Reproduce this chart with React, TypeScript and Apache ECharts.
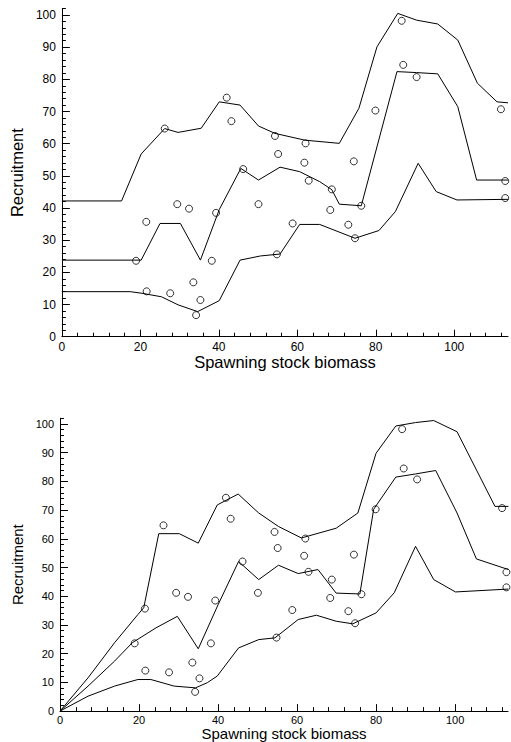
import React, { useEffect, useRef } from "react";
import * as echarts from "echarts";

// Observed stock-recruitment points (same in both panels)
const observed: [number, number][] = [
  [18.9, 23.6], [21.5, 35.7], [21.6, 14.1], [26.2, 64.7], [27.6, 13.5], [29.4, 41.2],
  [32.4, 39.8], [33.5, 16.9], [34.2, 6.7], [35.3, 11.4], [38.2, 23.6], [39.3, 38.5],
  [42.0, 74.3], [43.2, 67.0], [46.2, 52.1], [50.1, 41.2], [54.3, 62.4], [54.8, 25.6],
  [55.1, 56.8], [58.8, 35.2], [61.8, 54.1], [62.1, 60.1], [62.9, 48.5], [68.4, 39.4],
  [68.8, 45.8], [73.0, 34.8], [74.4, 54.5], [74.7, 30.6], [76.3, 40.7], [79.9, 70.3],
  [86.6, 98.2], [87.0, 84.5], [90.4, 80.7], [111.9, 70.7], [113.0, 48.4], [113.0, 43.1],
];

// Top panel curves
const topUpper: [number, number][] = [
  [0, 42.2], [15.2, 42.2], [20.2, 56.8], [26.2, 64.7], [29.6, 63.5], [35.5, 64.8],
  [40.1, 73.0], [45.4, 72.0], [50.1, 65.5], [54.3, 63.2], [61.9, 61.1], [70.7, 60.1],
  [75.7, 71.0], [80.3, 90.1], [85.6, 100.5], [90.4, 98.4], [95.8, 97.2], [100.9, 92.2],
  [105.9, 78.8], [110.9, 73.0], [113.7, 72.7],
];
const topMiddle: [number, number][] = [
  [0, 23.8], [20.2, 23.8], [25.0, 35.2], [30.2, 35.2], [35.3, 23.8], [40.1, 39.5],
  [45.6, 52.3], [50.1, 48.7], [55.6, 52.7], [60.6, 51.3], [65.7, 48.2], [68.8, 45.7],
  [70.7, 41.2], [76.3, 40.7], [85.4, 82.4], [90.4, 82.1], [95.8, 81.7], [100.9, 71.5],
  [105.7, 48.7], [113.7, 48.7],
];
const topLower: [number, number][] = [
  [0, 14.0], [17.4, 14.0], [20.4, 13.5], [25.4, 12.4], [29.6, 9.9], [34.6, 7.8],
  [40.1, 11.2], [45.4, 23.8], [50.6, 25.1], [55.6, 25.7], [60.6, 34.9], [65.7, 34.9],
  [74.7, 30.6], [80.8, 33.0], [85.0, 38.9], [90.8, 53.9], [95.4, 45.1], [100.7, 42.5],
  [113.7, 42.7],
];

// Bottom panel curves
const botUpper: [number, number][] = [
  [0, 0], [7.1, 11.6], [13.8, 23.8], [19.7, 33.6], [21.2, 36.0], [25.0, 61.8],
  [30.2, 61.8], [35.0, 58.5], [39.8, 71.8], [45.1, 75.6], [50.3, 69.0], [55.3, 64.3],
  [61.1, 60.3], [69.9, 63.7], [75.4, 69.0], [80.0, 89.8], [85.0, 99.3], [90.0, 100.5],
  [94.6, 101.2], [100.5, 97.3], [110.1, 71.3], [113.5, 71.3],
];
const botMiddle: [number, number][] = [
  [0, 0], [7.1, 8.7], [13.8, 17.4], [18.3, 23.8], [24.3, 29.0], [29.7, 33.0],
  [35.0, 21.7], [40.0, 37.0], [45.2, 52.1], [50.3, 45.8], [55.3, 50.8], [60.3, 47.9],
  [65.3, 49.3], [69.9, 41.1], [75.9, 40.8], [79.4, 70.3], [85.0, 81.5], [90.0, 82.6],
  [95.1, 83.8], [100.5, 69.0], [105.4, 53.0], [113.5, 49.3],
];
const botLower: [number, number][] = [
  [0, 0], [7.1, 5.2], [13.8, 8.7], [19.7, 11.0], [23.0, 11.0], [28.9, 8.7],
  [34.3, 8.1], [37.3, 9.9], [39.8, 12.2], [45.2, 22.0], [50.3, 24.9], [54.4, 25.5],
  [60.3, 31.9], [64.9, 33.4], [69.9, 31.3], [74.1, 30.4], [80.0, 34.2], [84.6, 41.2],
  [90.0, 57.4], [94.6, 45.8], [100.1, 41.5], [113.5, 42.5],
];

// Tick values
const xMajorTicks = [0, 20, 40, 60, 80, 100];
const xMinorTicks = [4, 8, 12, 16, 24, 28, 32, 36, 44, 48, 52, 56, 64, 68, 72, 76, 84, 88, 92, 96, 104, 108, 112];
const yMajorTicks = [0, 10, 20, 30, 40, 50, 60, 70, 80, 90, 100];
const yMinorTicks = [2, 4, 6, 8, 12, 14, 16, 18, 22, 24, 26, 28, 32, 34, 36, 38, 42, 44, 46, 48,
  52, 54, 56, 58, 62, 64, 66, 68, 72, 74, 76, 78, 82, 84, 86, 88, 92, 94, 96, 98, 102];
const yMax = 102;

const xTitle = "Spawning stock biomass";
const yTitle = "Recruitment";

const FONT = "'Liberation Sans', Arial, sans-serif";

export default function App() {
  const ref = useRef<HTMLDivElement>(null);
  useEffect(() => {
    if (!ref.current) return;
    const chart = echarts.init(ref.current, null, { renderer: "svg" });
    const black = "#000";

    const panels = [
      { x0: 59, y0: 336.7, kx: 3.975, ky: 3.217, xMax: 113.7, lab: 12, name: 16.5, xGap: 15, yGap: 32, xMargin: 4, yMargin: 6 },
      { x0: 60, y0: 711.7, kx: 3.975, ky: 2.877, xMax: 113.4, lab: 11, name: 15, xGap: 12, yGap: 33, xMargin: 3, yMargin: 6 },
    ];

    const grid: any[] = [];
    const xAxis: any[] = [];
    const yAxis: any[] = [];
    const series: any[] = [];
    panels.forEach((p, i) => {
      grid.push({
        left: p.x0, top: p.y0 - yMax * p.ky,
        width: p.xMax * p.kx, height: yMax * p.ky, containLabel: false,
      });
      xAxis.push({
        type: "value", gridIndex: i, min: 0, max: p.xMax, interval: 20,
        name: xTitle, nameLocation: "middle", nameGap: p.xGap,
        nameTextStyle: { color: black, fontSize: p.name, fontFamily: FONT },
        axisLine: { show: true, onZero: false, lineStyle: { color: black, width: 1 } },
        axisTick: { show: false },
        axisLabel: {
          show: true, color: black, fontSize: p.lab, fontFamily: FONT, margin: p.xMargin,
          formatter: (v: number) => (Math.abs(v % 20) < 1e-6 ? String(v) : ""),
        },
        splitLine: { show: false },
      });
      yAxis.push({
        type: "value", gridIndex: i, min: 0, max: yMax, interval: 10,
        name: yTitle, nameLocation: "middle", nameGap: p.yGap,
        nameTextStyle: { color: black, fontSize: p.name, fontFamily: FONT },
        axisLine: { show: true, onZero: false, lineStyle: { color: black, width: 1 } },
        axisTick: { show: false },
        axisLabel: {
          show: true, color: black, fontSize: p.lab, fontFamily: FONT, margin: p.yMargin,
          formatter: (v: number) => (Math.abs(v % 10) < 1e-6 && v <= 100 ? String(v) : ""),
        },
        splitLine: { show: false },
      });

      // inward ticks as short segments in data units (through the axes' scales)
      const tickSegs: any[] = [
        ...xMajorTicks.map((v) => [{ coord: [v, 0] }, { coord: [v, 7 / p.ky] }]),
        ...xMinorTicks.map((v) => [{ coord: [v, 0] }, { coord: [v, 4 / p.ky] }]),
        ...yMajorTicks.map((v) => [{ coord: [0, v] }, { coord: [8 / p.kx, v] }]),
        ...yMinorTicks.map((v) => [{ coord: [0, v] }, { coord: [4 / p.kx, v] }]),
      ];

      const lineSeries = (data: [number, number][]) => ({
        type: "line", xAxisIndex: i, yAxisIndex: i, data,
        showSymbol: false, symbol: "none",
        lineStyle: { color: black, width: 1 },
      });
      series.push(lineSeries(i === 0 ? topUpper : botUpper));
      series.push(lineSeries(i === 0 ? topMiddle : botMiddle));
      series.push(lineSeries(i === 0 ? topLower : botLower));
      series.push({
        type: "scatter", xAxisIndex: i, yAxisIndex: i, data: observed,
        symbol: "circle", symbolSize: 7,
        itemStyle: { color: "rgba(0,0,0,0)", borderColor: black, borderWidth: 1 },
        markLine: {
          symbol: ["none", "none"], silent: true, animation: false,
          label: { show: false },
          lineStyle: { color: black, width: 1, type: "solid" },
          emphasis: { disabled: true },
          data: tickSegs,
        },
      });
    });

    chart.setOption({
      animation: false,
      backgroundColor: "#fff",
      textStyle: { fontFamily: FONT },
      grid, xAxis, yAxis, series,
    });
    return () => chart.dispose();
  }, []);
  return (
    <div
      ref={ref}
      style={{ position: "fixed", left: 0, top: 0, width: 511, height: 742, background: "#fff" }}
    />
  );
}
